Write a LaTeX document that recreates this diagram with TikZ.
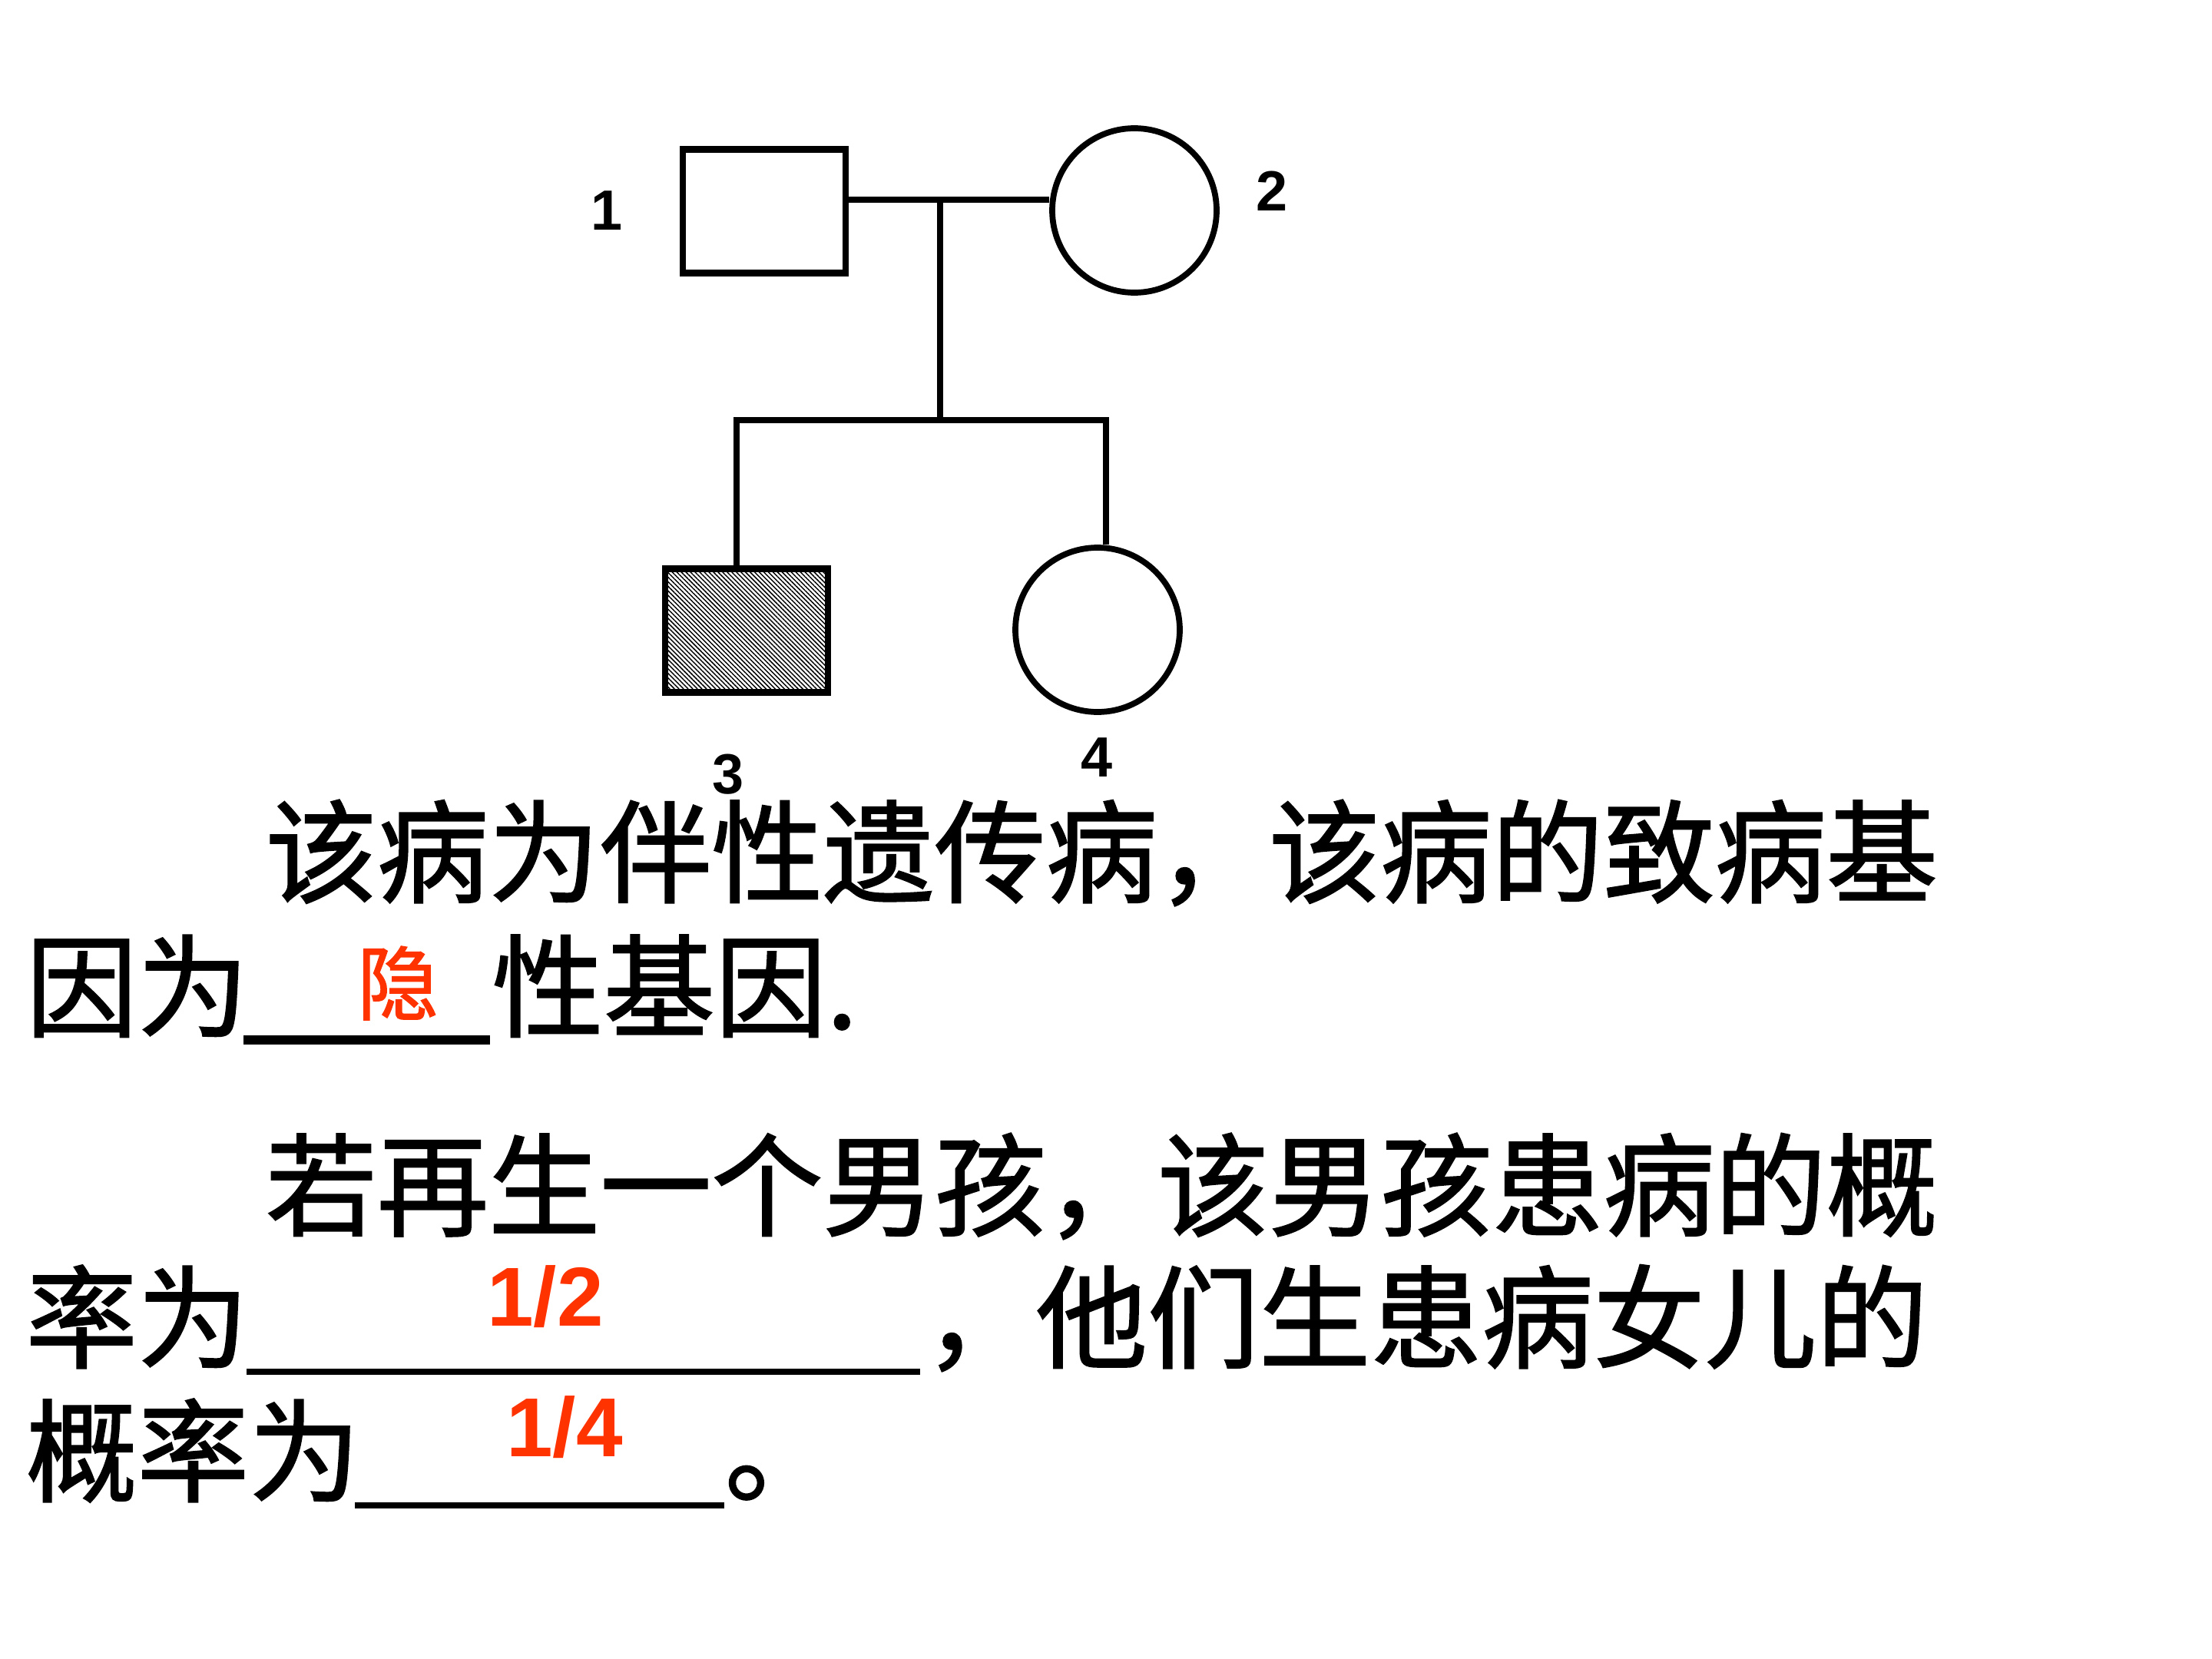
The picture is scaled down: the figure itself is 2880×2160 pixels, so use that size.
\documentclass[tikz,border=0pt]{standalone}
\usepackage{fontspec}
\setmainfont{Liberation Sans}
\newfontfamily\cjk[FakeBold=1.4]{Noto Sans CJK SC}
\usetikzlibrary{positioning, patterns.meta}
\definecolor{answerred}{HTML}{FF3300}

\tikzset{
  male/.style={draw, line width=2.5pt, minimum width=21.2mm, minimum height=16.1mm, inner sep=0pt},
  female/.style={draw, circle, line width=2.2pt, minimum size=21.4mm, inner sep=0pt},
  tag/.style={font=\fontsize{21}{21}\selectfont\bfseries, inner sep=0pt},
  link/.style={line width=2pt},
  txt/.style={anchor=base west, inner sep=0pt, font=\cjk\fontsize{41.3}{41.3}\selectfont},
  answer/.style={text=answerred, inner sep=0pt, font=\fontsize{31}{31}\selectfont\bfseries},
  gap/.style={line width=2.3pt},
}

\begin{document}
\begin{tikzpicture}[x=0.1mm, y=-0.1mm]
  \useasboundingbox (0,0) rectangle (2880,2160);
  % parents
  \node[male] (m1) at (995,275) {};
  \node[female] (f2) at (1477,274) {};
  \node[tag] (n1) at (790,274) {1};
  \node[tag] (n2) at (1656,249) {2};
  % children
  \node[male, pattern={Lines[angle=-45, distance=1.2pt, line width=0.42pt]}] (s3) at (972,821) {};
  \node[female] (d4) at (1429,820) {};
  \node[tag] (n3) at (948,1008) {3};
  \node[tag] (n4) at (1428,986) {4};
  % connectors
  \coordinate (mate) at (1224,260);
  \coordinate (sib) at (1224,547);
  \coordinate (sibL) at (959,547);
  \coordinate (sibR) at (1440,547);
  \draw[link] (m1.east |- mate) -- (f2.west |- mate);
  \draw[link] (mate) -- (sib);
  \draw[link] (sibL |- s3.north) -- (sibL) -- (sibR) -- (sibR |- d4.north);

  % question text
  \node[txt] (l1) at (345,1164) {该病为伴性遗传病，该病的致病基};
  \node[txt] (l2a) at (33,1339) {因为};
  \draw[gap, line width=3.2pt] (317,1354) coordinate (g1a) -- (638,1354) coordinate (g1b);
  \node[txt] (l2b) at (640,1339) {性基因.};
  \node[answer, font=\cjk\fontsize{30}{30}\selectfont] (a1) at (518,1280) {隐};

  \node[txt] (l3) at (345,1598) {若再生一个男孩，该男孩患病的概};
  \node[txt] (l4a) at (33,1770) {率为};
  \draw[gap] (321,1786) coordinate (g2a) -- (1198,1786) coordinate (g2b);
  \node[txt] (l4b) at (1203,1770) {，他们生患病女儿的};
  \node[answer] (a2) at (710,1688) {1/2};

  \node[txt] (l5a) at (33,1944) {概率为};
  \draw[gap] (462,1960) coordinate (g3a) -- (943,1960) coordinate (g3b);
  \node[txt] (l5b) at (943,1944) {。};
  \node[answer] (a3) at (735,1858) {1/4};
\end{tikzpicture}
\end{document}
